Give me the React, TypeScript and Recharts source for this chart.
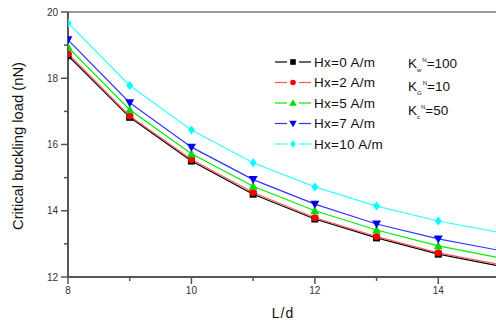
import React from 'react'
import { LineChart, Line, XAxis, YAxis, ReferenceLine } from 'recharts'

const ratios = [8, 9, 10, 11, 12, 13, 14, 15]
const hx0 = [18.68, 16.82, 15.5, 14.5, 13.75, 13.18, 12.69, 12.33]
const hx2 = [18.74, 16.86, 15.55, 14.55, 13.79, 13.22, 12.73, 12.37]
const hx5 = [18.94, 17.05, 15.72, 14.74, 14.0, 13.42, 12.94, 12.58]
const hx7 = [19.16, 17.26, 15.92, 14.94, 14.2, 13.6, 13.15, 12.8]
const hx10 = [19.67, 17.78, 16.44, 15.45, 14.72, 14.14, 13.69, 13.34]

const xTicks = [8, 9, 10, 11, 12, 13, 14, 15]
const yTicks = [12, 13, 14, 15, 16, 17, 18, 19, 20]

const seriesDefs = [
  { key: 'hx0', name: 'Hx=0 A/m', color: '#000000', line: '#000000', shape: 'square' },
  { key: 'hx2', name: 'Hx=2 A/m', color: '#ff0000', line: '#ff5555', shape: 'circle' },
  { key: 'hx5', name: 'Hx=5 A/m', color: '#00dd00', line: '#00ee00', shape: 'up' },
  { key: 'hx7', name: 'Hx=7 A/m', color: '#0000ee', line: '#3333ff', shape: 'down' },
  { key: 'hx10', name: 'Hx=10 A/m', color: '#00ffff', line: '#33ffff', shape: 'diamond' },
]

const data = ratios.map((r, i) => ({
  ld: r,
  hx0: hx0[i],
  hx2: hx2[i],
  hx5: hx5[i],
  hx7: hx7[i],
  hx10: hx10[i],
}))

const FONT = '"Liberation Sans", Arial, sans-serif'
const AXIS = '#555'

function Marker({ cx, cy, shape, color, s = 3.5 }: { cx: number; cy: number; shape: string; color: string; s?: number }) {
  if (shape === 'square') return <rect x={cx - s} y={cy - s} width={2 * s} height={2 * s} fill={color} />
  if (shape === 'circle') return <circle cx={cx} cy={cy} r={s} fill={color} />
  if (shape === 'up')
    return <polygon points={`${cx},${cy - s - 1} ${cx - s - 1},${cy + s} ${cx + s + 1},${cy + s}`} fill={color} />
  if (shape === 'down')
    return <polygon points={`${cx - s - 1},${cy - s} ${cx + s + 1},${cy - s} ${cx},${cy + s + 1}`} fill={color} />
  return <polygon points={`${cx},${cy - s - 1} ${cx + s},${cy} ${cx},${cy + s + 1} ${cx - s},${cy}`} fill={color} />
}

function YTick(props: any) {
  const { x, y, payload } = props
  const major = payload.value % 2 === 0
  const axisX = x + 10
  return (
    <g>
      <line x1={axisX - (major ? 7 : 4)} x2={axisX} y1={y} y2={y} stroke={AXIS} strokeWidth={1.5} />
      {major && (
        <text x={x} y={y} dy="0.35em" textAnchor="end" fontSize={10} fill="#333" fontFamily={FONT}>
          {payload.value}
        </text>
      )}
    </g>
  )
}

function XTick(props: any) {
  const { x, y, payload } = props
  const major = payload.value % 2 === 0
  const axisY = y - 10
  return (
    <g>
      <line x1={x} x2={x} y1={axisY} y2={axisY + (major ? 7 : 4)} stroke={AXIS} strokeWidth={1.5} />
      {major && (
        <text x={x} y={y} dy="0.71em" textAnchor="middle" fontSize={10} fill="#333" fontFamily={FONT}>
          {payload.value}
        </text>
      )}
    </g>
  )
}

function LegendBox() {
  return (
    <svg width={496} height={321} style={{ position: 'absolute', left: 0, top: 0 }}>
      {seriesDefs.map((s, i) => {
        const y = 62 + i * 20.5
        return (
          <g key={s.key}>
            <line x1={275} x2={287} y1={y} y2={y} stroke={s.line} strokeWidth={1.2} />
            <line x1={299} x2={311} y1={y} y2={y} stroke={s.line} strokeWidth={1.2} />
            <Marker cx={293} cy={y} shape={s.shape} color={s.color} s={2.8} />
            <text x={314} y={y} dy="0.36em" fontSize={13.5} fill="#111" fontFamily={FONT} letterSpacing={0.3}>
              {s.name}
            </text>
          </g>
        )
      })}
      {[
        ['w', '100'],
        ['G', '10'],
        ['c', '50'],
      ].map(([sub, val], i) => {
        const y = 63 + i * 23.5
        return (
          <text key={sub} x={408} y={y} dy="0.36em" fontSize={13.5} fill="#111" fontFamily={FONT}>
            K
            <tspan fontSize={6} dy={4}>{sub}</tspan>
            <tspan fontSize={6} dy={-10} dx={1}>N</tspan>
            <tspan dy={6}>{'=' + val}</tspan>
          </text>
        )
      })}
      <text
        x={18}
        y={146}
        transform="rotate(-90 18 146)"
        textAnchor="middle"
        dominantBaseline="central"
        fontSize={14}
        textLength={168}
        lengthAdjust="spacingAndGlyphs"
        fill="#111"
        fontFamily={FONT}
      >
        Critical buckling load (nN)
      </text>
      <text x={283} y={313} dy="0.36em" textAnchor="middle" fontSize={14} fill="#111" fontFamily={FONT} letterSpacing={1}>
        L/d
      </text>
    </svg>
  )
}

export default function App() {
  return (
    <div
      style={{
        position: 'absolute',
        left: 0,
        top: 0,
        width: 496,
        height: 321,
        overflow: 'hidden',
        background: '#fff',
      }}
    >
      <LineChart width={520} height={321} data={data} margin={{ top: 12, right: 20, bottom: 0, left: 0 }}>
        <XAxis
          dataKey="ld"
          type="number"
          domain={[8, 15]}
          ticks={xTicks}
          height={44}
          tickSize={6}
          tickMargin={4}
          tickLine={false}
          tick={<XTick />}
          axisLine={{ stroke: AXIS, strokeWidth: 2 }}
          allowDataOverflow
        />
        <YAxis
          type="number"
          domain={[12, 20]}
          ticks={yTicks}
          width={68}
          tickSize={6}
          tickMargin={4}
          tickLine={false}
          tick={<YTick />}
          axisLine={{ stroke: AXIS, strokeWidth: 2 }}
          interval={0}
        />
        <ReferenceLine y={20} stroke="#777" strokeWidth={1.5} />
        {seriesDefs.map((s) => (
          <Line
            key={s.key}
            dataKey={s.key}
            stroke={s.line}
            strokeWidth={1.2}
            isAnimationActive={false}
            dot={(p: any) => <Marker key={p.index} cx={p.cx} cy={p.cy} shape={s.shape} color={s.color} />}
            activeDot={false}
          />
        ))}
      </LineChart>
      <LegendBox />
    </div>
  )
}
